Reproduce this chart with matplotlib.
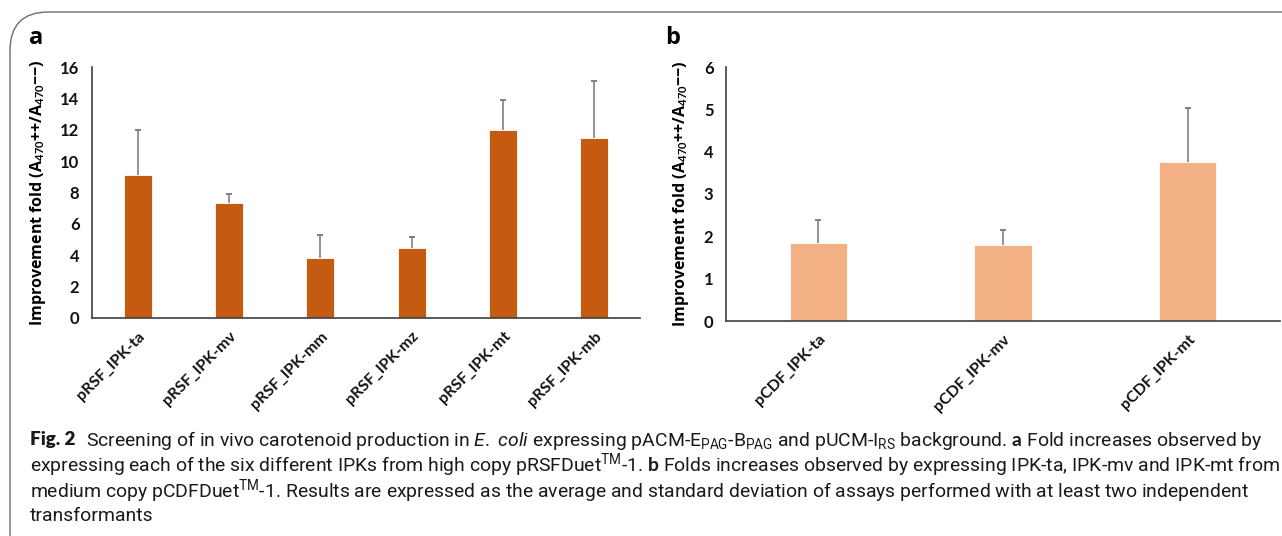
import matplotlib
matplotlib.use('Agg')
import matplotlib.pyplot as plt
from matplotlib.patches import FancyBboxPatch
import numpy as np

# panel a data
labels_a = ['pRSF_IPK-ta', 'pRSF_IPK-mv', 'pRSF_IPK-mm', 'pRSF_IPK-mz', 'pRSF_IPK-mt', 'pRSF_IPK-mb']
means_a = [9.1, 7.3, 3.85, 4.45, 12.0, 11.5]
sd_a = [2.9, 0.6, 1.45, 0.7, 1.9, 3.6]

# panel b data
labels_b = ['pCDF_IPK-ta', 'pCDF_IPK-mv', 'pCDF_IPK-mt']
means_b = [1.85, 1.8, 3.75]
sd_b = [0.53, 0.35, 1.27]

W, H = 1282, 536
cap_family = 'Roboto'
plt.rcParams['mathtext.fontset'] = 'custom'
plt.rcParams['mathtext.rm'] = cap_family
plt.rcParams['mathtext.it'] = cap_family + ':italic'
plt.rcParams['mathtext.bf'] = 'Lato:bold'

fig = plt.figure(figsize=(W / 100, H / 100), dpi=100)

# rounded frame around the figure
frame = FancyBboxPatch((10 / W, -0.2), 1.2, 1 - 12 / H + 0.2,
                       boxstyle='round,pad=0,rounding_size=0.03',
                       transform=fig.transFigure, fill=False,
                       edgecolor='#6e6e6e', linewidth=1.0, mutation_aspect=W / H)
fig.patches.append(frame)

tick_font = 'Lato'
ylab = r'Improvement fold (A$_{\mathbf{470}}$++/A$_{\mathbf{470}}$−−)'


def draw_panel(ax, labels, means, sd, color, ymax, ystep):
    x = np.arange(len(labels))
    tops = np.array(means) + np.array(sd)
    ax.bar(x, means, width=0.31, color=color, edgecolor='white', linewidth=0.6, zorder=2)
    ax.vlines(x, means, tops, color='#808080', linewidth=1.2, zorder=3)
    ax.plot(x, tops, linestyle='none', marker='_', markersize=5, markeredgewidth=1.4,
            color='#808080', zorder=3)
    ax.set_xlim(-0.5, len(labels) - 0.5)
    ax.set_ylim(0, ymax)
    ax.set_yticks(np.arange(0, ymax + 0.01, ystep))
    ax.set_xticks(x)
    ax.set_xticklabels(labels, rotation=45, ha='right', rotation_mode='anchor',
                       fontsize=11.5, fontweight='bold', family=tick_font, color='#111111')
    for t in ax.get_yticklabels():
        t.set_fontsize(12)
        t.set_fontweight('bold')
        t.set_family(tick_font)
        t.set_color('#111111')
    ax.tick_params(axis='y', length=0, pad=9)
    ax.tick_params(axis='x', length=0, pad=8)
    for s in ['top', 'right']:
        ax.spines[s].set_visible(False)
    for s in ['left', 'bottom']:
        ax.spines[s].set_color('#404040')
        ax.spines[s].set_linewidth(1.2)
    ax.set_ylabel(ylab, fontsize=11.5, fontweight='bold', family='Open Sans', labelpad=9)


ax_a = fig.add_axes([92 / W, 1 - 318 / H, (640 - 92) / W, (318 - 67) / H])
draw_panel(ax_a, labels_a, means_a, sd_a, '#C55A11', 16, 2)

ax_b = fig.add_axes([726 / W, 1 - 321 / H, (1280 - 726) / W, (321 - 67) / H])
draw_panel(ax_b, labels_b, means_b, sd_b, '#F4B183', 6, 1)

fig.text(29 / W, 1 - 38 / H, 'a', fontsize=17, fontweight='bold', family='Open Sans', va='center')
fig.text(665 / W, 1 - 38 / H, 'b', fontsize=17, fontweight='bold', family='Open Sans', va='center')

# caption
cap_head = 'Fig. 2'
cap_lines = [
    r'Screening of in vivo carotenoid production in $\mathit{E.}$ $\mathit{coli}$ expressing '
    r'pACM-E$_{\mathrm{PAG}}$-B$_{\mathrm{PAG}}$ and pUCM-I$_{\mathrm{RS}}$ background. $\mathbf{a}$ Fold increases observed by',
    r'expressing each of the six different IPKs from high copy pRSFDuet$^{\mathrm{TM}}$-1. $\mathbf{b}$ Folds increases '
    r'observed by expressing IPK-ta, IPK-mv and IPK-mt from',
    r'medium copy pCDFDuet$^{\mathrm{TM}}$-1. Results are expressed as the average and standard deviation of assays '
    r'performed with at least two independent',
    'transformants',
]
cap_y = [440, 465, 491, 516]

renderer = fig.canvas.get_renderer()
cap_size = 12
head = fig.text(30 / W, 1 - cap_y[0] / H, cap_head, fontsize=13.5, fontweight='heavy',
                family='Lato', va='center', color='#1a1a1a')
head_w = head.get_window_extent(renderer).width + 10

# fit the longest caption line to the width it takes in the reference
probe = fig.text(0, 0, cap_lines[0], fontsize=cap_size, family=cap_family)
w0 = probe.get_window_extent(renderer).width
probe.remove()
cap_size = cap_size * (1262 - 30 - head_w) / w0

for i, (line, yy) in enumerate(zip(cap_lines, cap_y)):
    x0 = 30 + (head_w if i == 0 else 0)
    fig.text(x0 / W, 1 - yy / H, line, fontsize=cap_size, family=cap_family, va='center', color='#1a1a1a')

fig.savefig('out.png', dpi=100)
